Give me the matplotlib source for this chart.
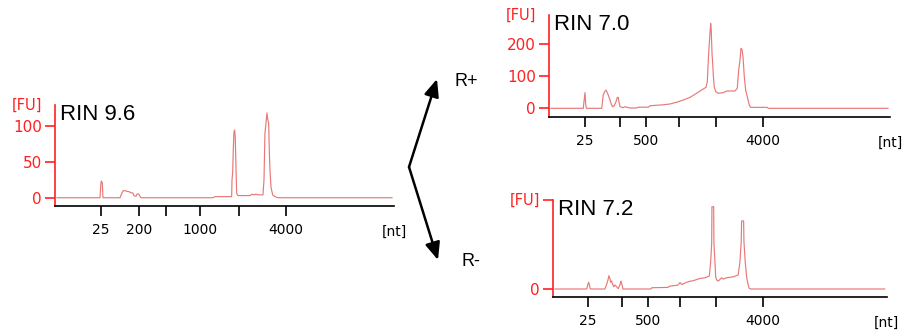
import matplotlib.pyplot as plt

# Electropherogram traces: migration time (s) vs fluorescence (FU)
t_rin96 = [19.29, 25.64, 25.76, 25.83, 25.98, 26.08, 28.59, 28.81, 29.03, 29.32,
           29.62, 29.91, 30.21, 30.50, 30.65, 30.95, 31.09, 31.32, 31.54, 31.68,
           42.30, 42.60, 45.06, 45.11, 45.21, 45.30, 45.40, 45.50, 45.59, 45.70,
           45.80, 45.99, 47.76, 48.06, 48.35, 48.65, 48.94, 49.68, 49.83, 49.97,
           50.12, 50.27, 50.37, 50.52, 50.61, 50.71, 50.86, 51.11, 51.45, 51.89,
           68.71]
fu_rin96 = [0, 0, 18, 23.5, 21, 0, 0, 5, 9.5, 10,
            9, 8.5, 7, 6.5, 3, 2, 5, 5.5, 2, 0,
            0, 1.5, 1.5, 25, 35, 67, 92, 95, 85, 43,
            6, 3, 3, 5, 4, 5, 4, 4, 25, 90,
            104, 119, 111, 104, 67, 39, 15, 4, 1.5, 0,
            0]

t_rin70 = [19.25, 23.99, 24.09, 24.24, 24.34, 24.43, 26.69, 26.84, 26.92, 27.13,
           27.32, 27.51, 27.72, 27.91, 28.10, 28.30, 28.50, 28.79, 28.98, 29.13,
           29.23, 29.38, 29.86, 30.11, 30.45, 30.84, 31.83, 32.06, 33.53, 33.78,
           35.73, 36.71, 37.70, 38.67, 39.65, 40.63, 41.12, 42.00, 42.19, 42.39,
           42.58, 42.69, 42.77, 42.88, 42.98, 43.07, 43.21, 43.42, 43.80, 44.54,
           45.03, 46.25, 46.59, 46.80, 46.99, 47.13, 47.28, 47.43, 47.62, 47.82,
           48.12, 48.35, 48.56, 50.99, 51.14, 68.71]
fu_rin70 = [0, 0, 20, 49, 15, 0, 0, 26, 42, 52,
            57, 49, 38, 26, 13, 5, 7, 20, 34, 34,
            20, 5, 2, 5, 3, 1, 1, 3.5, 3.5, 8,
            11, 13.5, 19, 26, 34, 47, 54, 65.6, 83, 172,
            234, 265, 245, 172, 141, 104, 67.5, 52, 47, 49,
            54, 54, 62.5, 120, 151, 187.5, 184, 161, 99, 57,
            31, 10, 3, 3, 0, 0]

t_rin72 = [19.25, 24.01, 24.20, 24.31, 24.40, 24.50, 24.65, 26.75, 27.01, 27.20,
           27.35, 27.50, 27.61, 27.76, 27.91, 28.06, 28.25, 28.51, 28.75, 29.00,
           29.15, 29.30, 29.45, 33.65, 33.80, 36.20, 36.50, 37.70, 38.00, 38.30,
           39.01, 39.50, 40.00, 41.00, 41.75, 42.40, 42.61, 42.76, 42.80, 43.06,
           43.10, 43.25, 43.36, 43.51, 43.75, 44.26, 44.50, 45.00, 46.00, 46.74,
           47.00, 47.19, 47.25, 47.55, 47.60, 47.79, 48.00, 48.20, 48.39, 48.60,
           68.71]
fu_rin72 = [0, 0, 15, 21, 15, 3, 0, 0, 14.6, 28,
            41.6, 33, 21, 25, 14.6, 7, 12.5, 7, 1, 12.5,
            25, 14.6, 0, 0, 4, 5, 9, 12, 20, 14,
            21, 24, 26, 33, 35, 40.6, 85, 143, 257, 257,
            143, 85, 38, 28, 25, 35, 31, 35, 38, 44,
            85, 148, 212.5, 212.5, 148, 85, 38, 15.6, 2, 0,
            0]

ticks_left = [25.74, 31.43, 35.42, 40.39, 46.09, 53.03]
labels_left = ['25', '200', '', '1000', '', '4000']
ticks_right = [24.24, 29.38, 33.15, 38.03, 43.46, 50.40]
labels_right = ['25', '', '500', '', '', '4000']

RED = '#ff2020'
TRACE = '#e87878'

fig = plt.figure(figsize=(9.04, 3.36), dpi=100)


def panel(rect, t, fu, ylim, yticks, rin, ticks, labels, fu_tick=False):
    ax = fig.add_axes(rect)
    ax.plot(t, fu, color=TRACE, lw=0.85)
    ax.set_xlim(19, 69)
    ax.set_ylim(*ylim)
    for s in ['top', 'right']:
        ax.spines[s].set_visible(False)
    ax.spines['left'].set_color(RED)
    ax.spines['left'].set_linewidth(1.2)
    ax.spines['bottom'].set_color('black')
    ax.spines['bottom'].set_linewidth(1.2)
    yt = list(yticks)
    yl = [str(v) for v in yticks]
    if fu_tick:
        yt.append(ylim[1])
        yl.append('')
    ax.set_yticks(yt)
    ax.set_yticklabels(yl)
    ax.tick_params(axis='y', colors=RED, labelcolor=RED, length=7.5, width=1.2,
                   pad=2, labelsize=11)
    ax.set_xticks(ticks)
    ax.set_xticklabels(labels)
    ax.tick_params(axis='x', colors='black', length=7.5, width=1.2, pad=5,
                   labelsize=10)
    ax.annotate('[FU]', xy=(0, 1), xycoords='axes fraction',
                xytext=(-9.5, 0), textcoords='offset points',
                ha='right', va='center', color=RED, fontsize=10.5)
    ax.annotate('[nt]', xy=(1, 0), xycoords='axes fraction',
                xytext=(0, -18.5), textcoords='offset points',
                ha='center', va='center', color='black', fontsize=10)
    ax.annotate(rin, xy=(0, 1), xycoords='axes fraction',
                xytext=(3.5, -6.5), textcoords='offset points',
                ha='left', va='center', fontsize=16, family='Liberation Sans')
    return ax


panel([0.0608, 0.3869, 0.375, 0.3006], t_rin96, fu_rin96, (-11.6, 130),
      [0, 50, 100], 'RIN 9.6', ticks_left, labels_left)
panel([0.6076, 0.6527, 0.3769, 0.3027], t_rin70, fu_rin70, (-26.2, 291.6),
      [0, 100, 200], 'RIN 7.0', ticks_right, labels_right)
panel([0.6120, 0.1170, 0.3688, 0.2878], t_rin72, fu_rin72, (-24, 278),
      [0], 'RIN 7.2', ticks_right, labels_right, fu_tick=True)

# arrows between the panels (figure pixel overlay)
ov = fig.add_axes([0, 0, 1, 1])
ov.set_xlim(0, 904)
ov.set_ylim(336, 0)
ov.axis('off')
style = dict(arrowstyle='-|>,head_length=0.75,head_width=0.32',
             mutation_scale=14, color='black', lw=1.8, shrinkA=0, shrinkB=0)
ov.annotate('', xy=(437, 79), xytext=(409, 167), arrowprops=style)
ov.annotate('', xy=(438, 260), xytext=(409, 167), arrowprops=style)
ov.plot([409, 409.5], [167, 167], color='black', lw=1.8)
ov.text(455, 81, 'R+', fontsize=13, family='Liberation Sans', va='center', ha='left')
ov.text(462, 261, 'R-', fontsize=13, family='Liberation Sans', va='center', ha='left')

fig.savefig('out.png', dpi=100)
